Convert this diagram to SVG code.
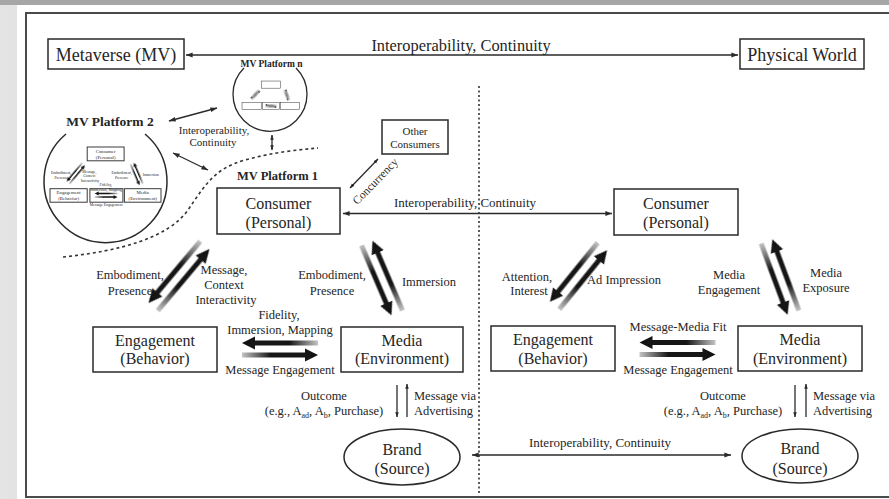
<svg xmlns="http://www.w3.org/2000/svg" width="889" height="499" viewBox="0 0 889 499">
<defs>
<style>
.sf{font-family:"Liberation Serif","Times New Roman",serif;fill:#252525;text-anchor:middle}
.b{font-weight:bold}
.box{fill:#fff;stroke:#2a2a2a;stroke-width:1.5}
.mbox{fill:#fff;stroke:#333;stroke-width:3.2}
.ln{fill:none;stroke:#2a2a2a;stroke-width:1.3}
.f18{font-size:18px}.f16{font-size:16px}.f13{font-size:13px}.f12{font-size:12.5px}.f11{font-size:11px}
</style>
<linearGradient id="bgL" x1="0" y1="0" x2="1" y2="0"><stop offset="0" stop-color="#e4e4e4"/><stop offset="1" stop-color="#9c9c9c"/></linearGradient>
<marker id="ah" viewBox="0 0 10 10" refX="9.5" refY="5" markerWidth="7" markerHeight="7" markerUnits="userSpaceOnUse" orient="auto-start-reverse"><path d="M0,1.5 L10,5 L0,8.5 z" fill="#2a2a2a"/></marker>
<marker id="ahs" viewBox="0 0 10 10" refX="9.5" refY="5" markerWidth="5" markerHeight="5" markerUnits="userSpaceOnUse" orient="auto-start-reverse"><path d="M0,1.5 L10,5 L0,8.5 z" fill="#2a2a2a"/></marker>
<linearGradient id="gA" gradientUnits="userSpaceOnUse" x1="-38" y1="0" x2="38" y2="0"><stop offset="0" stop-color="#111"/><stop offset="0.62" stop-color="#161616"/><stop offset="1" stop-color="#c4c4c4"/></linearGradient>
<linearGradient id="gB" gradientUnits="userSpaceOnUse" x1="-38" y1="0" x2="38" y2="0"><stop offset="0" stop-color="#c4c4c4"/><stop offset="0.38" stop-color="#161616"/><stop offset="1" stop-color="#111"/></linearGradient>
<filter id="soft" x="-20%" y="-20%" width="140%" height="140%"><feGaussianBlur stdDeviation="0.45"/></filter>
<g id="pair" filter="url(#soft)">
<polygon fill="url(#gA)" points="-38,-6 -25,-12.5 -25,-8.5 38,-8.5 38,-3.5 -25,-3.5 -25,0.5"/>
<polygon fill="url(#gB)" points="38,6 25,12.5 25,8.5 -38,8.5 -38,3.5 25,3.5 25,-0.5"/>
</g>
<g id="mini">
<rect class="mbox" x="217" y="188" width="123" height="46"/>
<rect class="mbox" x="93" y="327" width="124" height="45"/>
<rect class="mbox" x="226" y="327" width="110" height="45"/>
<rect class="mbox" x="341" y="327" width="122" height="45"/>
<use href="#pair" transform="translate(179,276) rotate(-50) scale(1.06,1)"/>
<use href="#pair" transform="translate(382,278) rotate(66.8)"/>
<use href="#pair" transform="translate(280,349)"/>
</g>
<g id="miniText" class="sf">
<text class="f16" x="278.5" y="209">Consumer</text><text class="f16" x="278.5" y="228">(Personal)</text>
<text class="f16" x="155" y="346">Engagement</text><text class="f16" x="155" y="364">(Behavior)</text>
<text class="f16" x="402" y="346">Media</text><text class="f16" x="402" y="364">(Environment)</text>
<text class="f12" x="130" y="279">Embodiment,</text><text class="f12" x="130" y="295">Presence</text>
<text class="f12" x="224" y="274">Message,</text><text class="f12" x="224" y="289">Context</text><text class="f12" x="226" y="304">Interactivity</text>
<text class="f12" x="332" y="279">Embodiment,</text><text class="f12" x="332" y="295">Presence</text>
<text class="f12" x="429" y="286">Immersion</text>
<text class="f12" x="279" y="319">Fidelity,</text><text class="f12" x="280" y="334">Immersion, Mapping</text>
<text class="f12" x="280" y="384">Message Engagement</text>
</g>
</defs>

<!-- frame -->
<rect x="0" y="0" width="889" height="499" fill="url(#bgL)"/>
<rect x="0" y="0" width="889" height="5" fill="#a6a6a6"/>
<rect x="17" y="5" width="872" height="494" fill="#fff"/>
<rect x="26" y="13" width="880" height="484" fill="none" stroke="#4a4a4a" stroke-width="2"/>

<!-- connectors -->
<g id="connectors">
<path class="ln" d="M186,55 H738" marker-start="url(#ah)" marker-end="url(#ah)"/>
<path class="ln" d="M169,121 L217,108" marker-start="url(#ah)" marker-end="url(#ah)"/>
<path class="ln" d="M173,153 L208,170" marker-start="url(#ah)" marker-end="url(#ah)"/>
<path class="ln" d="M272,135 V150" marker-start="url(#ahs)" marker-end="url(#ahs)"/>
<path class="ln" d="M350,188 L378,159" marker-start="url(#ahs)" marker-end="url(#ahs)"/>
<path class="ln" d="M343,213.5 H612" marker-start="url(#ah)" marker-end="url(#ah)"/>
<path class="ln" d="M472,455 H731" marker-start="url(#ah)" marker-end="url(#ah)"/>
<path class="ln" d="M397,385 V417" marker-end="url(#ahs)"/>
<path class="ln" d="M407,417 V384" marker-end="url(#ahs)"/>
<path class="ln" d="M795,385 V417" marker-end="url(#ahs)"/>
<path class="ln" d="M806,417 V384" marker-end="url(#ahs)"/>
<path fill="none" stroke="#333" stroke-width="1.6" stroke-dasharray="3,3" d="M63,257 C120,251 168,238 188,210 C205,185 215,168 245,160 C270,153 295,150 318,148"/>
<path fill="none" stroke="#333" stroke-width="1.6" stroke-dasharray="2,2.5" d="M479,86 V493"/>
<use href="#pair" transform="translate(179,276) rotate(-50) scale(1.06,1)"/>
<use href="#pair" transform="translate(382,278) rotate(66.8)"/>
<use href="#pair" transform="translate(280,349)"/>
<use href="#pair" transform="translate(578.5,276) rotate(-51)"/>
<use href="#pair" transform="translate(780,277) rotate(69.6)"/>
<use href="#pair" transform="translate(677.5,348.5)"/>
</g>

<!-- nodes -->
<g id="node-metaverse"><rect class="box" x="48" y="39" width="136" height="30"/><text class="sf f18" x="116" y="61">Metaverse (MV)</text></g>
<g id="node-physical"><rect class="box" x="740" y="39" width="124" height="30"/><text class="sf f18" x="802" y="61">Physical World</text></g>

<g id="node-platform-n">
<text class="sf b" style="font-size:9.5px" x="271.5" y="67">MV Platform n</text>
<path class="ln" d="M244,68 A37,37 0 1 0 296,68"/>
<use href="#mini" transform="translate(227.6,51.9) scale(0.155)"/>
</g>
<g id="node-platform-2">
<text class="sf b" style="font-size:13.5px" x="110" y="126">MV Platform 2</text>
<path fill="none" stroke="#2a2a2a" stroke-width="1.5" d="M66,134 A61.5,61.5 0 1 0 145,134"/>
<use href="#mini" transform="translate(22.1,90.6) scale(0.3)"/>
<use href="#miniText" transform="translate(22.1,90.6) scale(0.3)"/>
</g>
<g id="node-platform-1"><text class="sf b" style="font-size:12.5px" x="277.5" y="180">MV Platform 1</text></g>

<g id="node-consumer-mv"><rect class="box" x="217" y="188" width="123" height="46"/><text class="sf f16" x="278.5" y="209">Consumer</text><text class="sf f16" x="278.5" y="228">(Personal)</text></g>
<g id="node-other-consumers"><rect class="box" x="382" y="120" width="66" height="34"/><text class="sf f11" x="415" y="135">Other</text><text class="sf f11" x="415" y="148">Consumers</text></g>
<g id="node-engagement-mv"><rect class="box" x="93" y="327" width="124" height="45"/><text class="sf f16" x="155" y="346">Engagement</text><text class="sf f16" x="155" y="364">(Behavior)</text></g>
<g id="node-media-mv"><rect class="box" x="341" y="327" width="122" height="45"/><text class="sf f16" x="402" y="346">Media</text><text class="sf f16" x="402" y="364">(Environment)</text></g>
<g id="node-brand-mv"><ellipse class="box" cx="402" cy="457" rx="58" ry="28"/><text class="sf f16" x="402" y="455">Brand</text><text class="sf f16" x="402" y="474">(Source)</text></g>

<g id="node-consumer-pw"><rect class="box" x="614" y="189" width="124" height="46"/><text class="sf f16" x="676" y="209">Consumer</text><text class="sf f16" x="676" y="228">(Personal)</text></g>
<g id="node-engagement-pw"><rect class="box" x="491" y="326" width="124" height="45"/><text class="sf f16" x="553" y="345">Engagement</text><text class="sf f16" x="553" y="364">(Behavior)</text></g>
<g id="node-media-pw"><rect class="box" x="738" y="326" width="124" height="45"/><text class="sf f16" x="800" y="345">Media</text><text class="sf f16" x="800" y="364">(Environment)</text></g>
<g id="node-brand-pw"><ellipse class="box" cx="800" cy="456" rx="58" ry="27"/><text class="sf f16" x="800" y="454">Brand</text><text class="sf f16" x="800" y="474">(Source)</text></g>

<!-- labels -->
<g id="labels" class="sf">
<text style="font-size:16.4px" x="461" y="51">Interoperability, Continuity</text>
<text class="f11" x="214" y="134">Interoperability,</text>
<text class="f11" x="213" y="146">Continuity</text>
<text class="f11" style="font-size:11.5px" transform="translate(378,184) rotate(-46)" x="0" y="0">Concurrency</text>
<text class="f13" x="465" y="207">Interoperability, Continuity</text>
<text class="f13" x="600" y="447">Interoperability, Continuity</text>

<text class="f12" x="130" y="279">Embodiment,</text><text class="f12" x="130" y="295">Presence</text>
<text class="f12" x="224" y="274">Message,</text><text class="f12" x="224" y="289">Context</text><text class="f12" x="226" y="304">Interactivity</text>
<text class="f12" x="332" y="279">Embodiment,</text><text class="f12" x="332" y="295">Presence</text>
<text class="f12" x="429" y="286">Immersion</text>
<text class="f12" x="279" y="319">Fidelity,</text><text class="f12" x="280" y="334">Immersion, Mapping</text>
<text class="f12" x="280" y="374">Message Engagement</text>
<text class="f12" x="324" y="400">Outcome</text>
<text class="f12" x="324" y="415">(e.g., A<tspan dy="3" style="font-size:8px">ad</tspan><tspan dy="-3">, A</tspan><tspan dy="3" style="font-size:8px">b</tspan><tspan dy="-3">, Purchase)</tspan></text>
<text class="f12" style="text-anchor:start" x="414" y="400">Message via</text>
<text class="f12" style="text-anchor:start" x="414" y="415">Advertising</text>

<text class="f12" x="527" y="281">Attention,</text><text class="f12" x="529" y="295">Interest</text>
<text class="f12" x="624" y="284">Ad Impression</text>
<text class="f12" x="729" y="279">Media</text><text class="f12" x="729" y="294">Engagement</text>
<text class="f12" x="826" y="277">Media</text><text class="f12" x="826" y="292">Exposure</text>
<text class="f12" x="678" y="331">Message-Media Fit</text>
<text class="f12" x="678" y="374">Message Engagement</text>
<text class="f12" x="723" y="400">Outcome</text>
<text class="f12" x="723" y="415">(e.g., A<tspan dy="3" style="font-size:8px">ad</tspan><tspan dy="-3">, A</tspan><tspan dy="3" style="font-size:8px">b</tspan><tspan dy="-3">, Purchase)</tspan></text>
<text class="f12" style="text-anchor:start" x="813" y="400">Message via</text>
<text class="f12" style="text-anchor:start" x="813" y="415">Advertising</text>
</g>
</svg>
